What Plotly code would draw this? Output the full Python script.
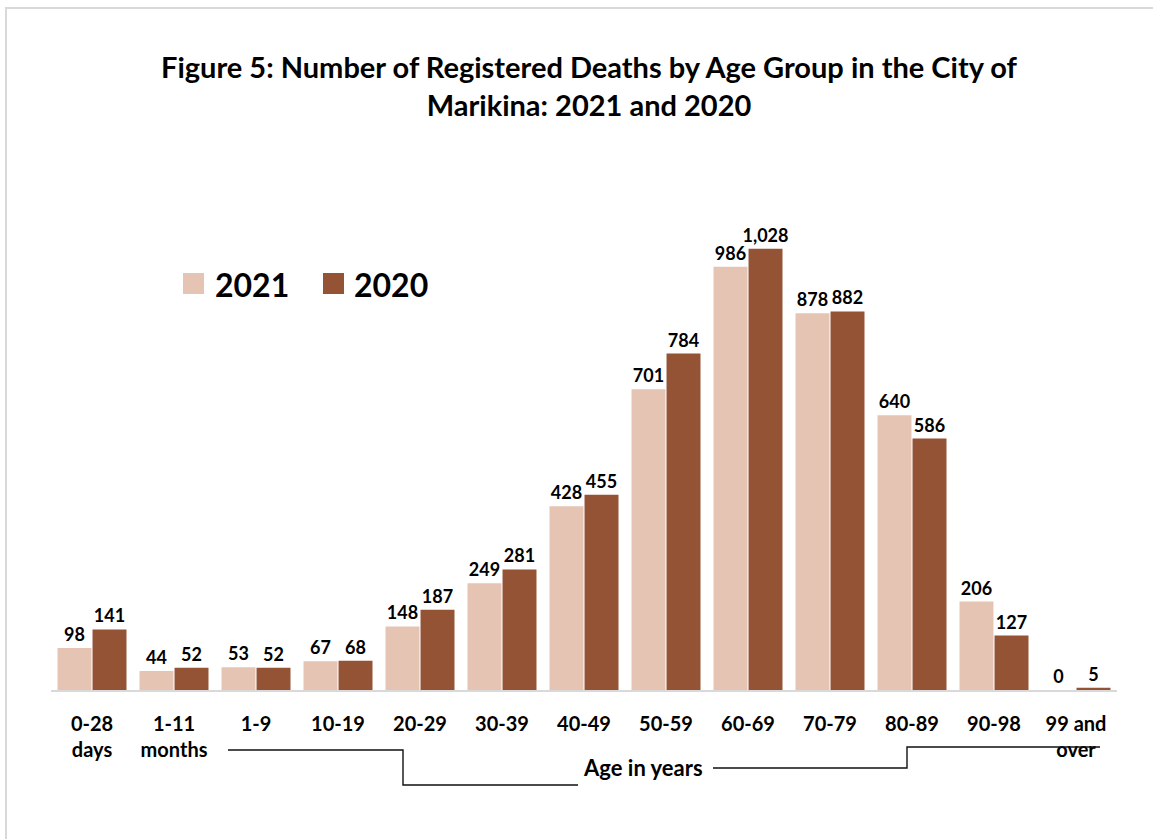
import plotly.graph_objects as go

categories = ["0-28<br>days", "1-11<br>months", "1-9", "10-19", "20-29", "30-39", "40-49",
              "50-59", "60-69", "70-79", "80-89", "90-98", "99 and<br>over"]
deaths_2021 = [98, 44, 53, 67, 148, 249, 428, 701, 986, 878, 640, 206, 0]
deaths_2020 = [141, 52, 52, 68, 187, 281, 455, 784, 1028, 882, 586, 127, 5]

C2021 = "#E6C4B4"
C2020 = "#955335"
FONT = "Lato, 'Open Sans', sans-serif"

W, H = 1153, 839
L, R, T, B = 51, 1117, 175, 690  # plot area pixel box


def px(x):
    return (x - L) / (R - L)


def py(y):
    return (B - y) / (B - T)


fig = go.Figure()
for name, vals, col in [("2021", deaths_2021, C2021), ("2020", deaths_2020, C2020)]:
    fig.add_trace(go.Bar(
        name=name, x=categories, y=vals, marker=dict(color=col, line=dict(width=0)),
        texttemplate="%{y:,}", textposition="outside", constraintext="none",
        textfont=dict(family=FONT, size=18, color="black", weight="bold"),
        cliponaxis=False, showlegend=False,
    ))

shapes = []
# frame (top and left edges)
shapes.append(dict(type="path", xref="paper", yref="paper",
                   path=f"M {px(6)} {py(845)} L {px(6)} {py(8)} L {px(1160)} {py(8)}",
                   line=dict(color="#D9D9D9", width=2)))
# bracket lines
shapes.append(dict(type="path", xref="paper", yref="paper",
                   path=f"M {px(228)} {py(750)} L {px(403)} {py(750)} L {px(403)} {py(785)} L {px(578)} {py(785)}",
                   line=dict(color="#111111", width=1.4)))
shapes.append(dict(type="path", xref="paper", yref="paper",
                   path=f"M {px(713)} {py(768)} L {px(907)} {py(768)} L {px(907)} {py(747)} L {px(1100)} {py(747)}",
                   line=dict(color="#111111", width=1.4)))
# legend swatches
for x0, col in [(183, C2021), (323, C2020)]:
    shapes.append(dict(type="rect", xref="paper", yref="paper",
                       x0=px(x0), x1=px(x0 + 21), y0=py(294), y1=py(273),
                       fillcolor=col, line=dict(width=0)))

annotations = [
    dict(text="Figure 5: Number of Registered Deaths by Age Group in the City of<br>Marikina: 2021 and 2020",
         xref="paper", yref="paper", x=px(589), y=py(86), xanchor="center", yanchor="middle",
         showarrow=False, font=dict(family=FONT, size=29, color="black", weight="bold")),
    dict(text="Age in years", xref="paper", yref="paper", x=px(643), y=py(767),
         xanchor="center", yanchor="middle", showarrow=False,
         font=dict(family=FONT, size=22, color="black", weight="bold")),
    dict(text="2021", xref="paper", yref="paper", x=px(213), y=py(284),
         xanchor="left", yanchor="middle", showarrow=False,
         font=dict(family=FONT, size=32, color="black", weight="bold")),
    dict(text="2020", xref="paper", yref="paper", x=px(352), y=py(284),
         xanchor="left", yanchor="middle", showarrow=False,
         font=dict(family=FONT, size=32, color="black", weight="bold")),
]

fig.update_layout(
    width=W, height=H,
    margin=dict(l=L, r=W - R, t=T, b=H - B, pad=0),
    paper_bgcolor="white", plot_bgcolor="white",
    barmode="group", bargap=0.146, bargroupgap=0.03,
    shapes=shapes, annotations=annotations,
    showlegend=False,
)
fig.update_xaxes(showgrid=False, showline=True, linecolor="#D9D9D9", linewidth=2,
                 ticks="", ticklabelstandoff=15,
                 tickfont=dict(family=FONT, size=20, color="black", weight="bold"))
fig.update_yaxes(range=[0, 1200], visible=False, showgrid=False, zeroline=False)

fig.write_html("out.html", config={"displayModeBar": False},
               post_script="document.body.style.margin='0';document.body.style.overflow='hidden';")
